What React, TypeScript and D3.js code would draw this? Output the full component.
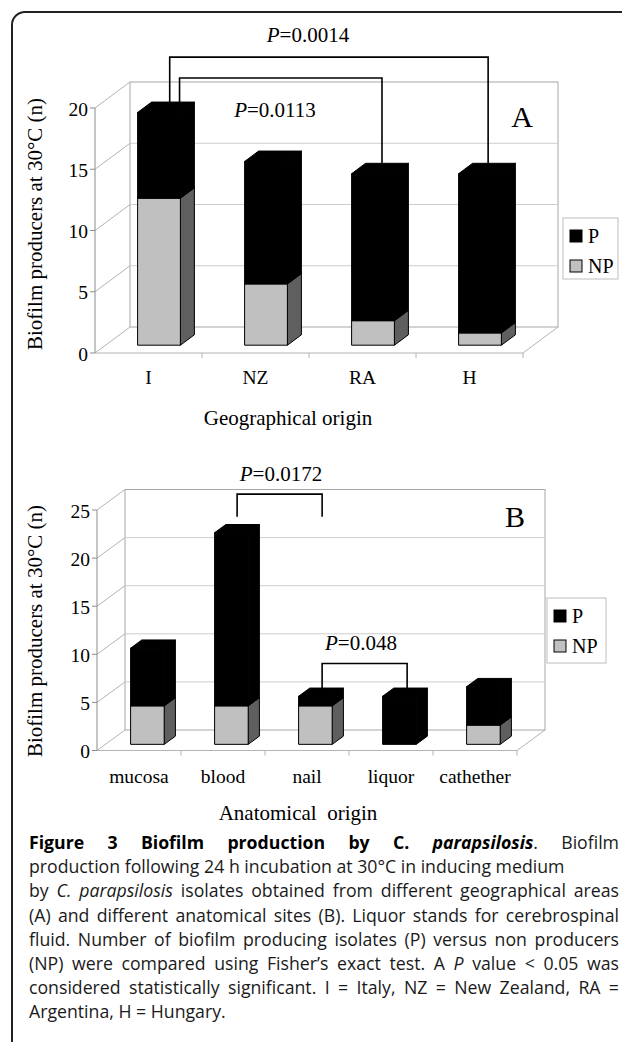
import React from 'react';
import * as d3 from 'd3';

// ---- data ----
const geoCategories = ['I', 'NZ', 'RA', 'H'];
const geoP = [7, 10, 12, 13];
const geoNP = [12, 5, 2, 1];
const geoTicks = [0, 5, 10, 15, 20];

const anatCategories = ['mucosa', 'blood', 'nail', 'liquor', 'cathether'];
const anatP = [6, 18, 1, 5, 4];
const anatNP = [4, 4, 4, 0, 2];
const anatTicks = [0, 5, 10, 15, 20, 25];

const legendNames = ['P', 'NP'];

// brackets: category index + fraction across the bar, level in data units
type Bracket = { a: number; af: number; b: number; bf: number; level: number; endA?: number; endB?: number };
const geoBrackets: Bracket[] = [
  { a: 0, af: 0.75, b: 3, bf: 0.69, level: 24.15 },
  { a: 0, af: 0.98, b: 2, bf: 0.71, level: 22.45 },
];
const geoPvalues = [
  { p: '0.0014', x: 308, y: 42 },
  { p: '0.0113', x: 275, y: 117 },
];
const anatBrackets: Bracket[] = [
  { a: 1, af: 0.67, b: 2, bf: 0.7, level: 26.65, endA: 24.3, endB: 24.3 },
  { a: 2, af: 0.7, b: 3, bf: 0.73, level: 9.05 },
];
const anatPvalues = [
  { p: '0.0172', x: 281, y: 481 },
  { p: '0.048', x: 361, y: 650 },
];

type Seg = { t: string; b?: boolean; i?: boolean };
const captionLines: { segs: Seg[]; justify: boolean }[] = [
  { segs: [{ t: 'Figure 3 Biofilm production by C. ', b: true }, { t: 'parapsilosis', b: true, i: true }, { t: '. Biofilm' }], justify: true },
  { segs: [{ t: 'production following 24 h incubation at 30°C in inducing medium' }], justify: false },
  { segs: [{ t: 'by ' }, { t: 'C. parapsilosis', i: true }, { t: ' isolates obtained from different geographical areas' }], justify: true },
  { segs: [{ t: '(A) and different anatomical sites (B). Liquor stands for cerebrospinal' }], justify: true },
  { segs: [{ t: 'fluid. Number of biofilm producing isolates (P) versus non producers' }], justify: true },
  { segs: [{ t: '(NP) were compared using Fisher’s exact test. A ' }, { t: 'P', i: true }, { t: ' value < 0.05 was' }], justify: true },
  { segs: [{ t: 'considered statistically significant. I = Italy, NZ = New Zealand, RA =' }], justify: true },
  { segs: [{ t: 'Argentina, H = Hungary.' }], justify: false },
];

const SERIF = "'Liberation Serif', 'DejaVu Serif', serif";
const SANS = "'Open Sans', 'Noto Sans', sans-serif";
const NP_FRONT = '#c0c0c0';
const NP_SIDE = '#5f5f5f';
const NP_TOP = '#9a9a9a';

type Layout = { x0: number; x1: number; yZero: number; yMax: number; dx: number; dy: number };

function Box({ xl, yt, yb, w, ddx, ddy, front, side, top }: any) {
  return (
    <g stroke="#000" strokeWidth={1} strokeLinejoin="round">
      <polygon points={`${xl},${yt} ${xl + ddx},${yt - ddy} ${xl + w + ddx},${yt - ddy} ${xl + w},${yt}`} fill={top} />
      <polygon points={`${xl + w},${yt} ${xl + w + ddx},${yt - ddy} ${xl + w + ddx},${yb - ddy} ${xl + w},${yb}`} fill={side} />
      <rect x={xl} y={yt} width={w} height={yb - yt} fill={front} />
    </g>
  );
}

function Panel3D(props: {
  cats: string[]; p: number[]; np: number[]; ticks: number[]; layout: Layout;
  brackets: Bracket[]; pvals: { p: string; x: number; y: number }[];
  letter: string; letterPos: [number, number]; legendPos: [number, number, number, number];
  xTitle: string; xTitlePos: [number, number]; yTitleY: number; catY: number;
}) {
  const { cats, p, np, ticks, layout, brackets, pvals } = props;
  const { x0, x1, yZero, yMax, dx, dy } = layout;
  const maxV = d3.max(ticks) as number;
  const x = d3.scaleBand<string>().domain(cats).range([x0, x1]);
  const y = d3.scaleLinear().domain([0, maxV]).range([yZero, yMax]);
  const bw = x.bandwidth();
  const w = bw * 0.4;
  const fx = dx * 0.3, fy = dy * 0.3, bdx = dx * 0.4, bdy = dy * 0.4;
  const barLeft = (i: number) => (x(cats[i]) as number) + (bw - w) / 2 + fx;
  const barTopBack = (i: number) => y(p[i] + np[i]) - fy - bdy;
  const [lx, ly, lw, lh] = props.legendPos;

  return (
    <g fontFamily={SERIF}>
      {/* back wall */}
      <rect x={x0 + dx} y={y(maxV) - dy} width={x1 - x0} height={yZero - y(maxV)} fill="#fff" stroke="#a6a6a6" />
      {ticks.filter(t => t > 0 && t < maxV).map(t => (
        <line key={'g' + t} x1={x0 + dx} x2={x1 + dx} y1={y(t) - dy} y2={y(t) - dy} stroke="#cdcdcd" />
      ))}
      {/* left side wall */}
      {ticks.map(t => (
        <line key={'s' + t} x1={x0} y1={y(t)} x2={x0 + dx} y2={y(t) - dy} stroke="#b4b4b4" />
      ))}
      <line x1={x0} x2={x0} y1={y(maxV)} y2={yZero} stroke="#8c8c8c" />
      {/* floor */}
      <line x1={x0} x2={x1} y1={yZero} y2={yZero} stroke="#b4b4b4" />
      <line x1={x1} y1={yZero} x2={x1 + dx} y2={yZero - dy} stroke="#b4b4b4" />
      {cats.map(c => (
        <line key={'ft' + c} x1={(x(c) as number) + bw} x2={(x(c) as number) + bw} y1={yZero} y2={yZero + 5} stroke="#b4b4b4" />
      ))}
      {/* y ticks */}
      {ticks.map(t => (
        <g key={'t' + t}>
          <line x1={x0 - 5} x2={x0} y1={y(t)} y2={y(t)} stroke="#8c8c8c" />
          <text x={x0 - 7} y={y(t) + 7.5} textAnchor="end" fontSize={19.5}>{t}</text>
        </g>
      ))}
      {/* bars */}
      {cats.map((c, i) => {
        const xl = barLeft(i);
        const yb = y(0) - fy;
        const ynp = y(np[i]) - fy;
        const ytot = y(np[i] + p[i]) - fy;
        return (
          <g key={'b' + c}>
            {np[i] > 0 && <Box xl={xl} yt={ynp} yb={yb} w={w} ddx={bdx} ddy={bdy} front={NP_FRONT} side={NP_SIDE} top={NP_TOP} />}
            {p[i] > 0 && <Box xl={xl} yt={ytot} yb={ynp} w={w} ddx={bdx} ddy={bdy} front="#000" side="#000" top="#000" />}
          </g>
        );
      })}
      {/* category labels */}
      {cats.map(c => (
        <text key={'c' + c} x={(x(c) as number) + bw / 2} y={props.catY} textAnchor="middle" fontSize={19.5}>{c}</text>
      ))}
      {/* significance brackets */}
      {brackets.map((b, k) => {
        const xa = barLeft(b.a) + b.af * w;
        const xb = barLeft(b.b) + b.bf * w;
        const ya = b.endA !== undefined ? y(b.endA) : barTopBack(b.a);
        const yb2 = b.endB !== undefined ? y(b.endB) : barTopBack(b.b);
        const yl = y(b.level);
        return <path key={'br' + k} d={`M${xa},${ya}V${yl}H${xb}V${yb2}`} fill="none" stroke="#000" strokeWidth={1.6} />;
      })}
      {pvals.map(v => (
        <text key={'pv' + v.p} x={v.x} y={v.y} textAnchor="middle" fontSize={21}>
          <tspan fontStyle="italic">P</tspan>=<tspan>{v.p}</tspan>
        </text>
      ))}
      <text x={props.letterPos[0]} y={props.letterPos[1]} textAnchor="middle" fontSize={30}>{props.letter}</text>
      {/* legend */}
      <rect x={lx} y={ly} width={lw} height={lh} fill="#fff" stroke="#bdbdbd" />
      {legendNames.map((n, i) => (
        <g key={'lg' + n}>
          <rect x={lx + 7} y={ly + 12 + i * 30} width={12} height={12} fill={i === 0 ? '#000' : NP_FRONT} stroke="#000" />
          <text x={lx + 25} y={ly + 25 + i * 30} fontSize={20}>{n}</text>
        </g>
      ))}
      {/* axis titles */}
      <text x={props.xTitlePos[0]} y={props.xTitlePos[1]} textAnchor="middle" fontSize={21} style={{ whiteSpace: 'pre' }}>{props.xTitle}</text>
      <text transform={`translate(42,${props.yTitleY}) rotate(-90)`} textAnchor="middle" fontSize={21}>
        Biofilm producers at 30°C (n)
      </text>
    </g>
  );
}

const CAP_LEFT = 29;
const CAP_RIGHT = 619;

function Caption() {
  const refs = React.useRef<(SVGTextElement | null)[]>([]);
  React.useLayoutEffect(() => {
    const fit = () => {
      captionLines.forEach((line, i) => {
        const el = refs.current[i];
        if (!el || !line.justify) return;
        el.style.wordSpacing = '0px';
        const natural = el.getComputedTextLength();
        const spaces = line.segs.map(s => s.t).join('').split(' ').length - 1;
        if (spaces > 0) el.style.wordSpacing = `${(CAP_RIGHT - CAP_LEFT - natural) / spaces}px`;
      });
    };
    fit();
    if ((document as any).fonts) (document as any).fonts.ready.then(fit);
  }, []);
  return (
    <g fontFamily={SANS} fontSize={17.7} fill="#1a1a1a">
      {captionLines.map((line, i) => (
        <text key={i} ref={el => { refs.current[i] = el; }} x={CAP_LEFT} y={849 + i * 24.2} style={{ whiteSpace: 'pre' }}>
          {line.segs.map((s, j) => (
            <tspan key={j} fontWeight={s.b ? 700 : 400} fontStyle={s.i ? 'italic' : 'normal'} fill={s.b ? '#000' : undefined}>{s.t}</tspan>
          ))}
        </text>
      ))}
    </g>
  );
}

export default function App() {
  return (
    <svg width={622} height={1050} style={{ position: 'absolute', left: 0, top: 0, background: '#fff' }}>
      <rect width={622} height={1050} fill="#fff" />
      <path d="M12,1042 V25 A13,13 0 0 1 25,12 H622" fill="none" stroke="#222" strokeWidth={2} />
      <Panel3D
        cats={geoCategories} p={geoP} np={geoNP} ticks={geoTicks}
        layout={{ x0: 95, x1: 523, yZero: 353, yMax: 108, dx: 35, dy: 26 }}
        brackets={geoBrackets} pvals={geoPvalues}
        letter="A" letterPos={[522, 127]} legendPos={[563, 218, 55, 61]}
        xTitle="Geographical origin" xTitlePos={[288, 425]} yTitleY={224} catY={384}
      />
      <Panel3D
        cats={anatCategories} p={anatP} np={anatNP} ticks={anatTicks}
        layout={{ x0: 97, x1: 517, yZero: 750.5, yMax: 510, dx: 28, dy: 20.5 }}
        brackets={anatBrackets} pvals={anatPvalues}
        letter="B" letterPos={[515, 527]} legendPos={[547, 598, 59, 65]}
        xTitle="Anatomical  origin" xTitlePos={[298, 820]} yTitleY={631} catY={783}
      />
      <Caption />
    </svg>
  );
}
